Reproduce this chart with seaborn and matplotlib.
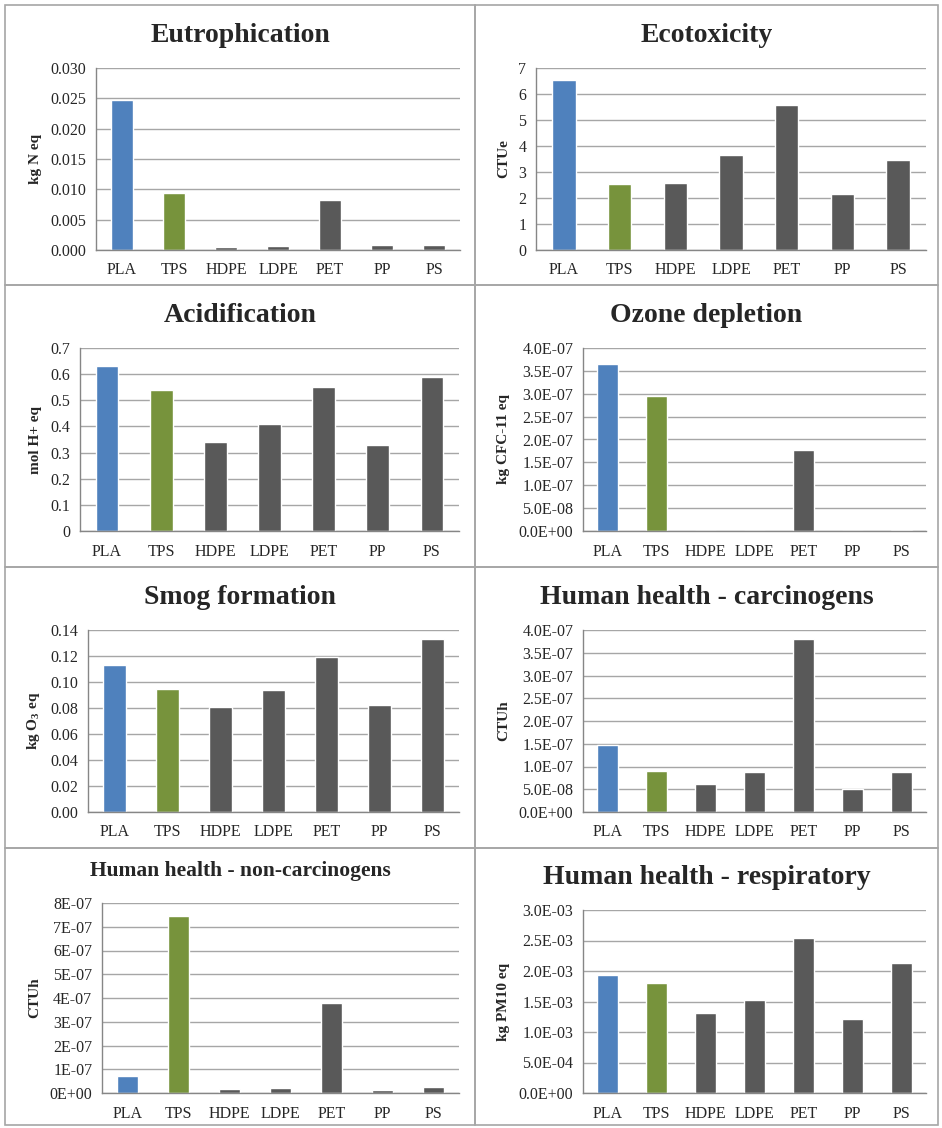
import numpy as np
import pandas as pd
import matplotlib
matplotlib.use('Agg')
import matplotlib.pyplot as plt
import matplotlib.ticker as mticker
from matplotlib.patches import Rectangle
import seaborn as sns

# DATA
materials = ['PLA', 'TPS', 'HDPE', 'LDPE', 'PET', 'PP', 'PS']

eutrophication = [0.0247, 0.0094, 0.0005, 0.0006, 0.0082, 0.0008, 0.0008]
ecotoxicity = [6.55, 2.53, 2.58, 3.65, 5.58, 2.15, 3.47]
acidification = [0.63, 0.54, 0.34, 0.41, 0.55, 0.33, 0.59]
ozone_depletion = [3.65e-7, 2.95e-7, 1.0e-9, 1.0e-9, 1.77e-7, 1.0e-9, 2.0e-9]
smog_formation = [0.113, 0.095, 0.081, 0.094, 0.119, 0.082, 0.133]
carcinogens = [1.48e-7, 0.90e-7, 0.62e-7, 0.87e-7, 3.80e-7, 0.51e-7, 0.87e-7]
non_carcinogens = [0.70e-7, 7.45e-7, 0.17e-7, 0.22e-7, 3.80e-7, 0.13e-7, 0.26e-7]
respiratory = [1.94e-3, 1.80e-3, 1.31e-3, 1.53e-3, 2.54e-3, 1.22e-3, 2.13e-3]

colors = ['#4F81BD', '#77933C', '#595959', '#595959', '#595959', '#595959', '#595959']

W, H = 942, 1128

sns.set_style('white')
plt.rcParams['font.family'] = ['Liberation Serif', 'DejaVu Serif']
plt.rcParams['mathtext.default'] = 'regular'

fig = plt.figure(figsize=(W / 100, H / 100), dpi=100)

# panel specs: title, values, ylabel, ymax, step, fmt, axes box (px), title y, title size
panels = [
    ('Eutrophication', eutrophication, 'kg N eq', 0.030, 0.005, '{:.3f}', (96, 68, 460, 250), 35, 20),
    ('Ecotoxicity', ecotoxicity, 'CTUe', 7, 1, '{:.0f}', (536, 68, 926, 250), 35, 20),
    ('Acidification', acidification, 'mol H+ eq', 0.7, 0.1, 'g', (80, 348, 459, 531), 315, 20),
    ('Ozone depletion', ozone_depletion, 'kg CFC-11 eq', 4.0e-7, 0.5e-7, '{:.1E}', (583, 348, 926, 531), 315, 20),
    ('Smog formation', smog_formation, 'kg O$_3$ eq', 0.14, 0.02, '{:.2f}', (88, 630, 459, 812), 597, 20),
    ('Human health - carcinogens', carcinogens, 'CTUh', 4.0e-7, 0.5e-7, '{:.1E}', (583, 630, 926, 812), 597, 20),
    ('Human health - non-carcinogens', non_carcinogens, 'CTUh', 8e-7, 1e-7, '{:.0E}', (102, 903, 459, 1093), 871, 15.5),
    ('Human health - respiratory', respiratory, 'kg PM10 eq', 3.0e-3, 0.5e-3, '{:.1E}', (583, 910, 926, 1093), 877, 20),
]

cells = [(5, 5, 475, 285), (475, 5, 938, 285),
         (5, 285, 475, 567), (475, 285, 938, 567),
         (5, 567, 475, 848), (475, 567, 938, 848),
         (5, 848, 475, 1125), (475, 848, 938, 1125)]

for (x0, y0, x1, y1) in cells:
    fig.add_artist(Rectangle((x0 / W, 1 - y1 / H), (x1 - x0) / W, (y1 - y0) / H,
                             transform=fig.transFigure, fill=False,
                             edgecolor='#A6A6A6', linewidth=1.2))

for i, (title, vals, ylab, ymax, step, fmt, box, ty, tsize) in enumerate(panels):
    l, t, r, b = box
    ax = fig.add_axes([l / W, 1 - b / H, (r - l) / W, (b - t) / H])
    df = pd.DataFrame({'material': materials, 'value': vals})
    sns.barplot(data=df, x='material', y='value', hue='material', palette=colors,
                legend=False, width=0.42, saturation=1, ax=ax)

    ax.set_ylim(0, ymax)
    ticks = np.arange(0, ymax + step / 2, step)
    ax.set_yticks(ticks)
    if fmt == 'g':
        labels = ['0' if v == 0 else '{:.1f}'.format(v) for v in ticks]
    else:
        labels = [fmt.format(v) for v in ticks]
    ax.set_yticklabels(labels)
    ax.yaxis.grid(True, color='#A6A6A6', linewidth=1)
    ax.set_axisbelow(True)
    ax.set_xlim(-0.5, 6.5)

    for s in ['top', 'right']:
        ax.spines[s].set_visible(False)
    for s in ['left', 'bottom']:
        ax.spines[s].set_color('#868686')
        ax.spines[s].set_linewidth(1)

    ax.xaxis.set_minor_locator(mticker.FixedLocator(np.arange(-0.5, 7, 1)))
    ax.tick_params(axis='x', which='major', length=0, pad=9, labelsize=11.5)
    ax.tick_params(axis='x', which='minor', length=4, color='#868686', direction='out')
    ax.tick_params(axis='y', length=4, color='#868686', direction='out', labelsize=11.5, pad=3)
    ax.set_xlabel('')
    ax.set_ylabel(ylab, fontsize=11, fontweight='bold', labelpad=6)

    cx = (cells[i][0] + cells[i][2]) / 2
    fig.text(cx / W, 1 - ty / H, title, ha='center', va='center',
             fontsize=tsize, fontweight='bold')

fig.savefig('out.png', dpi=100)
